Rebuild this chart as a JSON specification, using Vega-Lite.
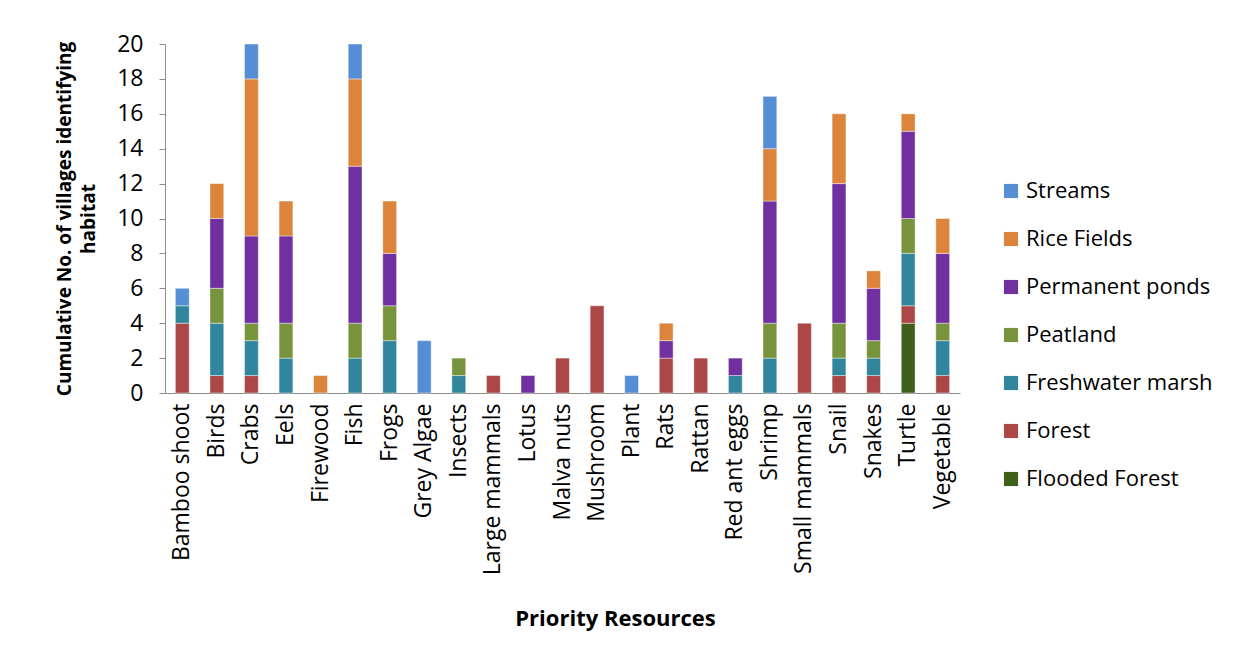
{
  "$schema": "https://vega.github.io/schema/vega-lite/v6.json",
  "autosize": {"type": "none"},
  "width": 795,
  "height": 349,
  "padding": {"left": 165, "top": 44, "right": 276, "bottom": 255},
  "background": "white",
  "config": {
    "font": "Open Sans",
    "view": {"stroke": null},
    "axis": {"domainColor": "#8c8c8c", "tickColor": "#8c8c8c", "grid": false, "labelColor": "black", "titleColor": "black", "labelFont": "Open Sans", "titleFont": "Open Sans"},
    "legend": {"labelFont": "Open Sans"}
  },
  "data": {
    "values": [
      {"resource": "Bamboo shoot", "habitat": "Forest", "n": 4},
      {"resource": "Bamboo shoot", "habitat": "Freshwater marsh", "n": 1},
      {"resource": "Bamboo shoot", "habitat": "Streams", "n": 1},
      {"resource": "Birds", "habitat": "Forest", "n": 1},
      {"resource": "Birds", "habitat": "Freshwater marsh", "n": 3},
      {"resource": "Birds", "habitat": "Peatland", "n": 2},
      {"resource": "Birds", "habitat": "Permanent ponds", "n": 4},
      {"resource": "Birds", "habitat": "Rice Fields", "n": 2},
      {"resource": "Crabs", "habitat": "Forest", "n": 1},
      {"resource": "Crabs", "habitat": "Freshwater marsh", "n": 2},
      {"resource": "Crabs", "habitat": "Peatland", "n": 1},
      {"resource": "Crabs", "habitat": "Permanent ponds", "n": 5},
      {"resource": "Crabs", "habitat": "Rice Fields", "n": 9},
      {"resource": "Crabs", "habitat": "Streams", "n": 2},
      {"resource": "Eels", "habitat": "Freshwater marsh", "n": 2},
      {"resource": "Eels", "habitat": "Peatland", "n": 2},
      {"resource": "Eels", "habitat": "Permanent ponds", "n": 5},
      {"resource": "Eels", "habitat": "Rice Fields", "n": 2},
      {"resource": "Firewood", "habitat": "Rice Fields", "n": 1},
      {"resource": "Fish", "habitat": "Freshwater marsh", "n": 2},
      {"resource": "Fish", "habitat": "Peatland", "n": 2},
      {"resource": "Fish", "habitat": "Permanent ponds", "n": 9},
      {"resource": "Fish", "habitat": "Rice Fields", "n": 5},
      {"resource": "Fish", "habitat": "Streams", "n": 2},
      {"resource": "Frogs", "habitat": "Freshwater marsh", "n": 3},
      {"resource": "Frogs", "habitat": "Peatland", "n": 2},
      {"resource": "Frogs", "habitat": "Permanent ponds", "n": 3},
      {"resource": "Frogs", "habitat": "Rice Fields", "n": 3},
      {"resource": "Grey Algae", "habitat": "Streams", "n": 3},
      {"resource": "Insects", "habitat": "Freshwater marsh", "n": 1},
      {"resource": "Insects", "habitat": "Peatland", "n": 1},
      {"resource": "Large mammals", "habitat": "Forest", "n": 1},
      {"resource": "Lotus", "habitat": "Permanent ponds", "n": 1},
      {"resource": "Malva nuts", "habitat": "Forest", "n": 2},
      {"resource": "Mushroom", "habitat": "Forest", "n": 5},
      {"resource": "Plant", "habitat": "Streams", "n": 1},
      {"resource": "Rats", "habitat": "Forest", "n": 2},
      {"resource": "Rats", "habitat": "Permanent ponds", "n": 1},
      {"resource": "Rats", "habitat": "Rice Fields", "n": 1},
      {"resource": "Rattan", "habitat": "Forest", "n": 2},
      {"resource": "Red ant eggs", "habitat": "Freshwater marsh", "n": 1},
      {"resource": "Red ant eggs", "habitat": "Permanent ponds", "n": 1},
      {"resource": "Shrimp", "habitat": "Freshwater marsh", "n": 2},
      {"resource": "Shrimp", "habitat": "Peatland", "n": 2},
      {"resource": "Shrimp", "habitat": "Permanent ponds", "n": 7},
      {"resource": "Shrimp", "habitat": "Rice Fields", "n": 3},
      {"resource": "Shrimp", "habitat": "Streams", "n": 3},
      {"resource": "Small mammals", "habitat": "Forest", "n": 4},
      {"resource": "Snail", "habitat": "Forest", "n": 1},
      {"resource": "Snail", "habitat": "Freshwater marsh", "n": 1},
      {"resource": "Snail", "habitat": "Peatland", "n": 2},
      {"resource": "Snail", "habitat": "Permanent ponds", "n": 8},
      {"resource": "Snail", "habitat": "Rice Fields", "n": 4},
      {"resource": "Snakes", "habitat": "Forest", "n": 1},
      {"resource": "Snakes", "habitat": "Freshwater marsh", "n": 1},
      {"resource": "Snakes", "habitat": "Peatland", "n": 1},
      {"resource": "Snakes", "habitat": "Permanent ponds", "n": 3},
      {"resource": "Snakes", "habitat": "Rice Fields", "n": 1},
      {"resource": "Turtle", "habitat": "Flooded Forest", "n": 4},
      {"resource": "Turtle", "habitat": "Forest", "n": 1},
      {"resource": "Turtle", "habitat": "Freshwater marsh", "n": 3},
      {"resource": "Turtle", "habitat": "Peatland", "n": 2},
      {"resource": "Turtle", "habitat": "Permanent ponds", "n": 5},
      {"resource": "Turtle", "habitat": "Rice Fields", "n": 1},
      {"resource": "Vegetable", "habitat": "Forest", "n": 1},
      {"resource": "Vegetable", "habitat": "Freshwater marsh", "n": 2},
      {"resource": "Vegetable", "habitat": "Peatland", "n": 1},
      {"resource": "Vegetable", "habitat": "Permanent ponds", "n": 4},
      {"resource": "Vegetable", "habitat": "Rice Fields", "n": 2}
    ]
  },
  "transform": [
    {"calculate": "indexof(['Streams','Rice Fields','Permanent ponds','Peatland','Freshwater marsh','Forest','Flooded Forest'], datum.habitat)", "as": "ord"}
  ],
  "mark": {"type": "bar", "stroke": "white", "strokeWidth": 0.6, "strokeOpacity": 0.7},
  "encoding": {
    "x": {
      "field": "resource", "type": "nominal", "sort": null,
      "scale": {"paddingInner": 0.6, "paddingOuter": 0.3},
      "axis": {
        "title": "Priority Resources", "titleFontSize": 22, "titleFontWeight": "bold",
        "titleX": 450, "titleY": 225, "titleBaseline": "middle",
        "labelAngle": 270, "labelFontSize": 23, "labelPadding": 10, "ticks": false, "labelLimit": 0
      }
    },
    "y": {
      "field": "n", "type": "quantitative", "aggregate": "sum",
      "scale": {"domain": [0, 20], "nice": false},
      "axis": {
        "title": ["Cumulative No. of villages identifying", "habitat"],
        "titleFontSize": 19, "titleFontWeight": "bold", "titleLineHeight": 24,
        "titlePadding": 18,
        "values": [0, 2, 4, 6, 8, 10, 12, 14, 16, 18, 20],
        "labelFontSize": 23, "tickSize": 6, "labelPadding": 16
      }
    },
    "color": {
      "field": "habitat", "type": "nominal",
      "scale": {
        "domain": ["Streams", "Rice Fields", "Permanent ponds", "Peatland", "Freshwater marsh", "Forest", "Flooded Forest"],
        "range": ["#558ed5", "#dd843c", "#7030a0", "#77933c", "#31859c", "#ab4746", "#3f5f1b"]
      },
      "legend": {
        "title": null, "orient": "none", "legendX": 835, "legendY": 136,
        "symbolType": "square", "symbolSize": 200, "symbolStrokeWidth": 0,
        "labelFontSize": 22, "rowPadding": 26, "labelOffset": 4, "labelLimit": 0
      }
    },
    "order": {"field": "ord", "type": "quantitative", "sort": "descending"}
  }
}
